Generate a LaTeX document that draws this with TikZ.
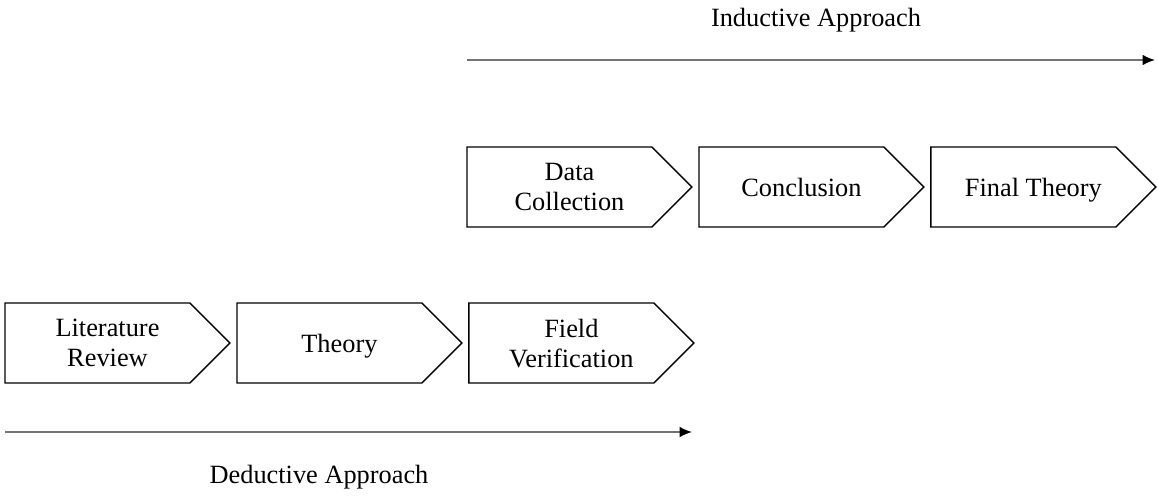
\documentclass[tikz,border=0pt]{standalone}
\usepackage{fontspec}
\setmainfont{Liberation Serif}
\usetikzlibrary{shapes.symbols,positioning,arrows.meta}

\begin{document}
\begin{tikzpicture}[x=0.02cm,y=-0.02cm,
    stage/.style={draw=black, line width=0.8pt, signal, signal to=east,
      signal pointer angle=90, minimum width=4.5cm, minimum height=1.6cm,
      inner sep=0pt, outer sep=0pt},
    stagetext/.style={align=center, text depth=0pt, xshift=0.2cm,
      font=\fontsize{15}{17}\selectfont},
    flow/.style={draw=black!55, line width=0.9pt, -{Latex[length=7pt,width=6pt,color=black]}},
    approach/.style={font=\fontsize{15}{17}\selectfont}]
    \useasboundingbox (0,0) rectangle (1158,495);
    % deductive row
    \node[stage, anchor=west, label={[stagetext]center:{Literature\\Review}}] (lit) at (5,343) {};
    \node[stage, right=0.14cm of lit, label={[stagetext]center:Theory}] (theory) {};
    \node[stage, right=0.14cm of theory, label={[stagetext]center:{Field\\Verification}}] (field) {};
    % inductive row
    \node[stage, anchor=west, label={[stagetext]center:{Data\\Collection}}] (data) at (467,187) {};
    \node[stage, right=0.14cm of data, label={[stagetext]center:Conclusion}] (concl) {};
    \node[stage, right=0.14cm of concl, label={[stagetext]center:Final Theory}] (final) {};
    % arrows
    \coordinate (indstart) at (467,60);
    \coordinate (indend) at (1155,60);
    \coordinate (dedstart) at (5,432);
    \coordinate (dedend) at (692,432);
    \draw[flow] (indstart) -- (indend);
    \draw[flow] (dedstart) -- (dedend);
    \node[approach] (ind) at (816,20) {Inductive Approach};
    \node[approach] (ded) at (319,477) {Deductive Approach};
\end{tikzpicture}
\end{document}
